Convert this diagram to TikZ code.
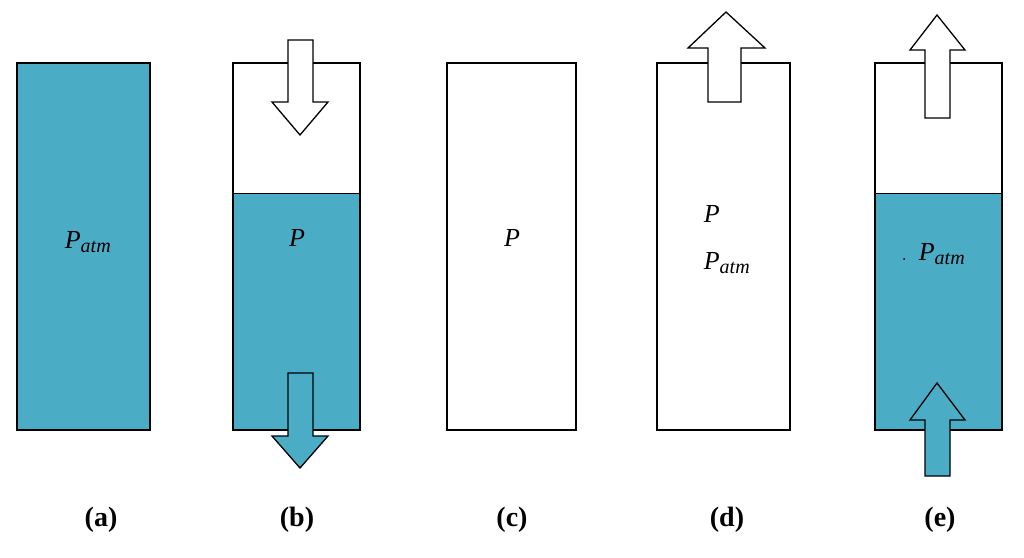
\documentclass[tikz,border=0pt]{standalone}
\usepackage{fontspec}
\setmainfont{Liberation Serif}
\begin{document}
\begin{tikzpicture}[x=1pt,y=-1pt,
  box/.style={draw=black,line width=2pt},
  water/.style={fill=teal0},
  arr/.style={draw=black,line width=1.3pt,line join=miter},
  lab/.style={font=\fontsize{26}{28}\selectfont\itshape,inner sep=0pt},
  captxt/.style={font=\fontsize{28}{30}\selectfont\bfseries,inner sep=0pt}]
\definecolor{teal0}{HTML}{4BACC6}
\useasboundingbox (0,0) rectangle (1024,557);
% (a)
\fill[water] (17,63) rectangle (150,430);
\draw[box] (17,63) rectangle (150,430);
\node[lab] (la) at (88,242) {P\textsubscript{\fontsize{20}{20}\selectfont atm}};
% (b)
\fill[water] (233,193) rectangle (360,430);
\draw[box] (233,63) rectangle (360,430);
\draw[line width=1pt] (233,193) -- (360,193);
\node[lab] (lb) at (297,238) {P};
\draw[arr,fill=white] (288,40) -- (313,40) -- (313,102) -- (328,102) -- (300,135) -- (272,102) -- (288,102) -- cycle;
\draw[arr,fill=teal0] (288,373) -- (313,373) -- (313,436) -- (328,436) -- (300,468) -- (272,436) -- (288,436) -- cycle;
% (c)
\draw[box] (447,63) rectangle (576,430);
\node[lab] (lc) at (512,238) {P};
% (d)
\draw[box] (657,63) rectangle (790,430);
\draw[arr,fill=white] (708,102) -- (741,102) -- (741,48) -- (765,48) -- (726,12) -- (688,48) -- (708,48) -- cycle;
\node[lab] (ld1) at (722,214) {P \raisebox{2pt}{\fontsize{18}{18}\selectfont\upshape\char"223C}};
\node[lab] (ld2) at (727,263) {P\textsubscript{\fontsize{20}{20}\selectfont atm}};
% (e)
\fill[water] (875,193) rectangle (1002,430);
\draw[box] (875,63) rectangle (1002,430);
\draw[line width=1pt] (875,193) -- (1002,193);
\draw[arr,fill=white] (925,118) -- (950,118) -- (950,50) -- (965,50) -- (937,15) -- (910,50) -- (925,50) -- cycle;
\draw[arr,fill=teal0] (925,476) -- (950,476) -- (950,420) -- (965,420) -- (937,383) -- (910,420) -- (925,420) -- cycle;
\node[lab] (le) at (942,254) {P\textsubscript{\fontsize{20}{20}\selectfont atm}};
\fill[black] (904,259) circle (1pt);
% captions
\node[captxt] (ca) at (101,520) {(a)};
\node[captxt] (cb) at (297,520) {(b)};
\node[captxt] (cc) at (512,520) {(c)};
\node[captxt] (cd) at (727,520) {(d)};
\node[captxt] (ce) at (940,520) {(e)};
\end{tikzpicture}
\end{document}
